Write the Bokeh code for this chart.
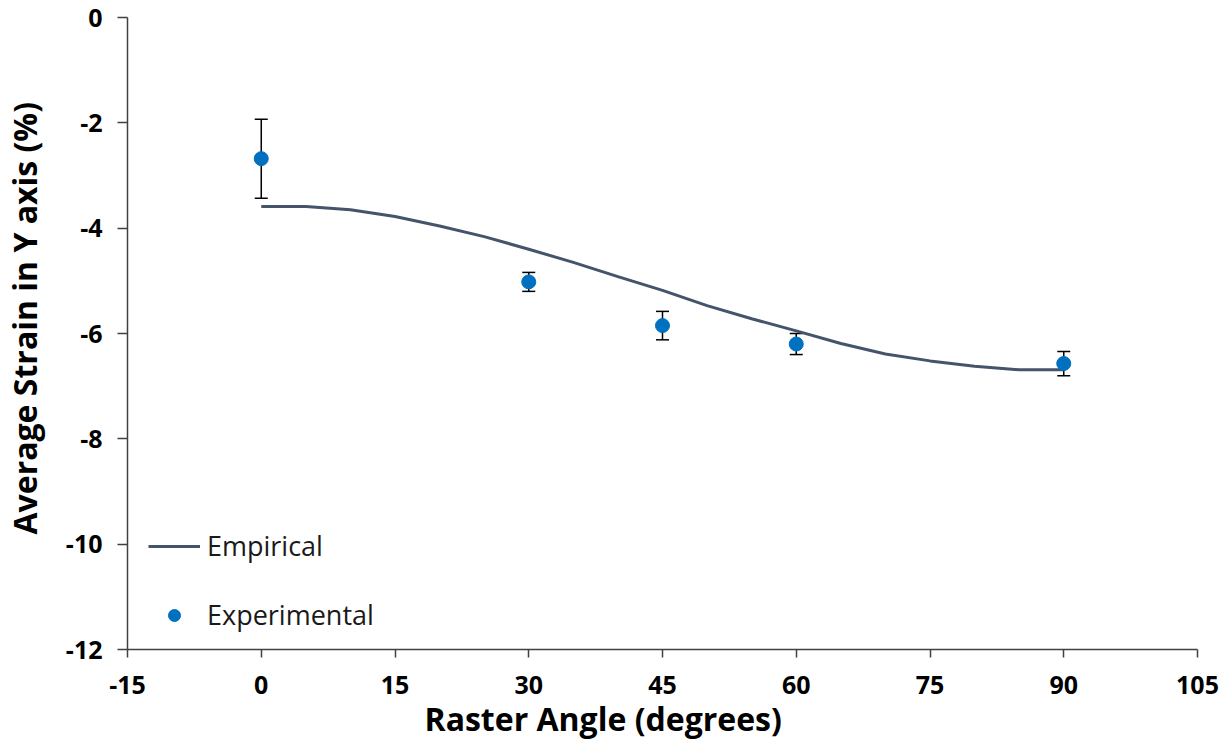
from bokeh.plotting import figure
from bokeh.models import (ColumnDataSource, Whisker, TeeHead, FixedTicker, Range1d, Legend,
                          LegendItem, PrintfTickFormatter, Title)
from bokeh.embed import file_html
from bokeh.resources import INLINE

# Empirical curve
emp_angle = [0, 5, 10, 15, 20, 25, 30, 35, 40, 45, 50, 55, 60, 65, 70, 75, 80, 85, 90]
emp_strain = [-3.59, -3.59, -3.65, -3.78, -3.96, -4.16, -4.40, -4.65, -4.92, -5.18,
              -5.47, -5.72, -5.95, -6.19, -6.39, -6.52, -6.62, -6.69, -6.69]

# Experimental points with error bars
exp_angle = [0, 30, 45, 60, 90]
exp_strain = [-2.68, -5.02, -5.85, -6.20, -6.57]
exp_err = [0.75, 0.18, 0.27, 0.20, 0.23]

x_ticks = [-15, 0, 15, 30, 45, 60, 75, 90, 105]
y_ticks = [-12, -10, -8, -6, -4, -2, 0]

x_title = "Raster Angle (degrees)"
y_title = "Average Strain in Y axis (%)"

FONT = "Open Sans"

p = figure(width=1228, height=744, output_backend="svg", toolbar_location=None,
           x_range=Range1d(-15, 105), y_range=Range1d(-12, 0),
           min_border_left=127, min_border_right=31, min_border_top=17, min_border_bottom=95)
p.outline_line_color = None
p.grid.visible = False
p.background_fill_color = "white"
p.border_fill_color = "white"

for ax in (p.xaxis[0], p.yaxis[0]):
    ax.axis_line_color = "#404040"
    ax.axis_line_width = 1.5
    ax.major_tick_line_color = "#404040"
    ax.major_tick_line_width = 1.5
    ax.major_tick_in = 0
    ax.minor_tick_line_color = None
    ax.major_label_text_font = FONT
    ax.major_label_text_font_style = "bold"
    ax.major_label_text_font_size = "25px"
    ax.major_label_text_color = "black"
    ax.formatter = PrintfTickFormatter(format="%d")

p.xaxis.ticker = FixedTicker(ticks=x_ticks)
p.yaxis.ticker = FixedTicker(ticks=y_ticks)
p.xaxis.major_tick_out = 8
p.yaxis.major_tick_out = 10
p.xaxis.major_label_standoff = 18
p.yaxis.major_label_standoff = 15
# invisible spacer label to push the y title outward
p.yaxis.axis_label = " "
p.yaxis.axis_label_text_font_size = "1px"
p.yaxis.axis_label_standoff = 11

xt = Title(text=x_title, align="left", offset=297, vertical_align="top", standoff=0,
           text_font=FONT, text_font_style="bold", text_font_size="32px", text_color="black")
p.add_layout(xt, "below")
yt = Title(text=y_title, align="left", offset=115, vertical_align="middle", standoff=2,
           text_font=FONT, text_font_style="bold", text_font_size="32px", text_color="black")
p.add_layout(yt, "left")

emp_src = ColumnDataSource(dict(x=emp_angle, y=emp_strain))
r_line = p.line("x", "y", source=emp_src, line_color="#44546A", line_width=3)

upper = [s + e for s, e in zip(exp_strain, exp_err)]
lower = [s - e for s, e in zip(exp_strain, exp_err)]
exp_src = ColumnDataSource(dict(x=exp_angle, y=exp_strain, upper=upper, lower=lower))
wh = Whisker(source=exp_src, base="x", upper="upper", lower="lower",
             line_color="black", line_width=1.5,
             upper_head=TeeHead(size=13, line_color="black", line_width=1.5),
             lower_head=TeeHead(size=13, line_color="black", line_width=1.5))
p.add_layout(wh)
r_pts = p.scatter("x", "y", source=exp_src, size=14, fill_color="#0070C0", line_color="#0070C0")

legend = Legend(items=[LegendItem(label="Empirical", renderers=[r_line]),
                       LegendItem(label="Experimental", renderers=[r_pts])],
                location=(21, 16), orientation="vertical")
legend.border_line_color = None
legend.background_fill_alpha = 0
legend.padding = 0
legend.margin = 0
legend.glyph_width = 52
legend.glyph_height = 30
legend.spacing = 32
legend.label_standoff = 7
legend.label_text_font = FONT
legend.label_text_font_size = "27px"
legend.label_text_color = "#1a1a1a"
p.add_layout(legend)

open("out.html", "w").write(file_html(p, INLINE))
